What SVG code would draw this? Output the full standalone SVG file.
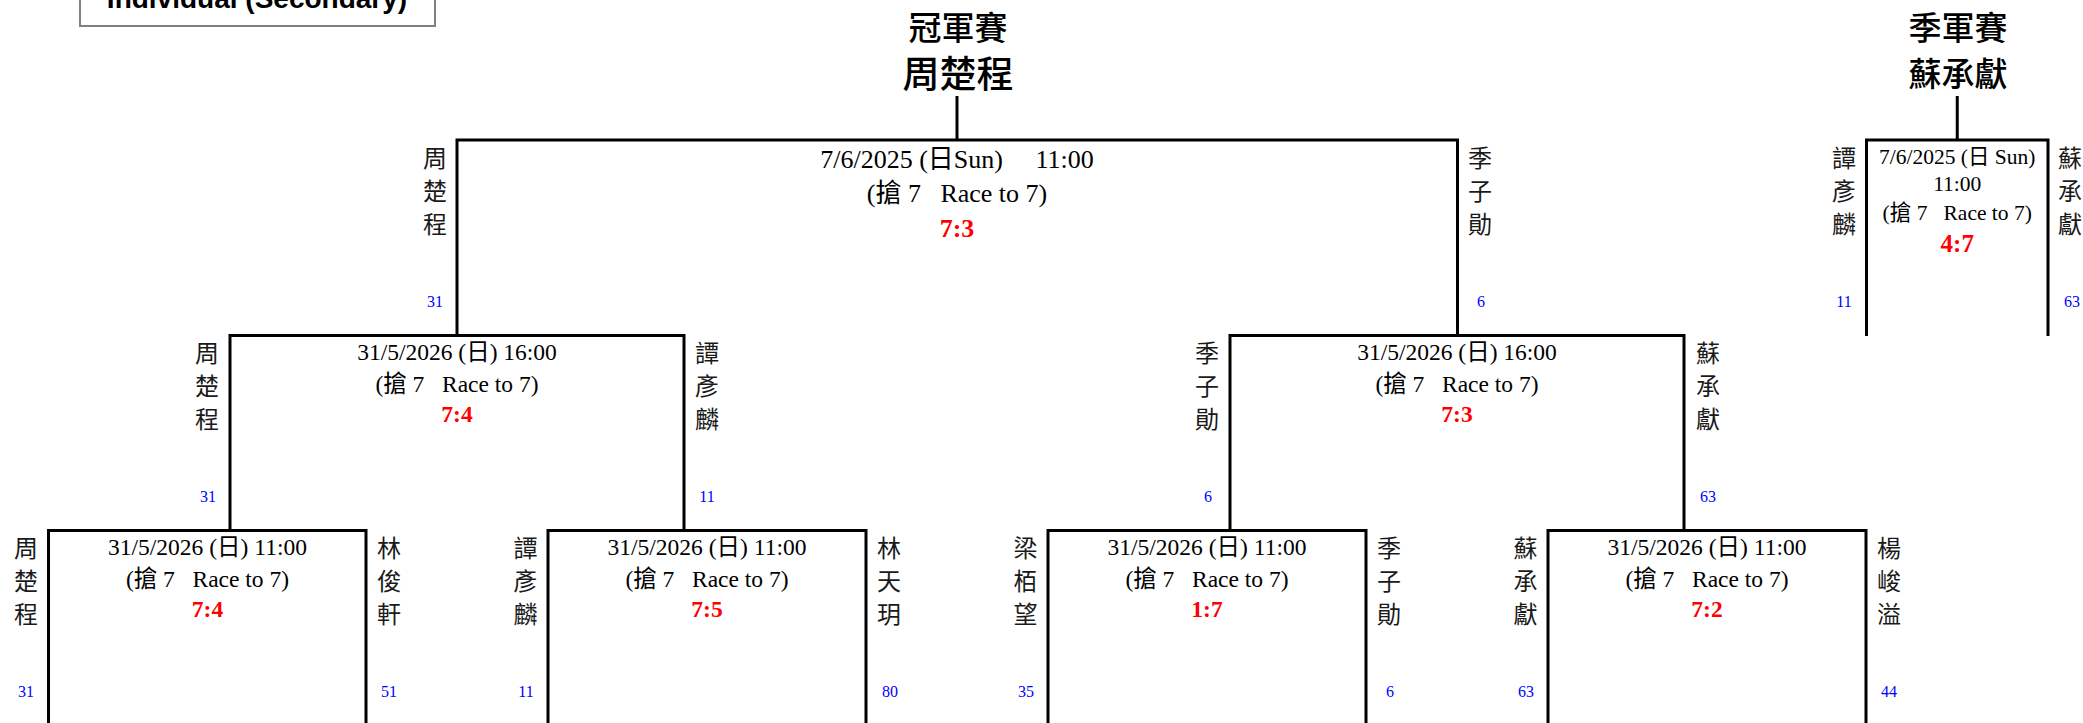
<svg xmlns="http://www.w3.org/2000/svg" width="2083" height="723" viewBox="0 0 2083 723">
<style>
.br{fill:none;stroke:#000;stroke-width:3;stroke-linejoin:miter}
.t{font-family:'Liberation Serif','Noto Sans CJK TC',serif;fill:#000;text-anchor:middle}
.f26{font-size:26px}
.f24{font-size:23.5px}
.f22{font-size:21.5px}
.sc{font-family:'Liberation Serif',serif;font-weight:bold;fill:#ff0000;text-anchor:middle}
.nm{font-family:'Noto Sans CJK TC','Noto Sans CJK SC',sans-serif;font-size:24px;fill:#1a1a1a;text-anchor:middle}
.num{font-family:'Liberation Serif',serif;font-size:16px;fill:#0000ff;text-anchor:middle}
.ttl{font-family:'Noto Sans CJK TC','Noto Sans CJK SC',sans-serif;fill:#000;text-anchor:middle;font-weight:500}
</style>
<rect width="2083" height="723" fill="#fff"/>

<g id="heading">
<rect x="80" y="-20" width="355" height="46" fill="#fff" stroke="#808080" stroke-width="2"/>
<text x="257" y="8" font-family="'Liberation Sans',Arial,sans-serif" font-weight="bold" font-size="28" text-anchor="middle" fill="#000">Individual (Secondary)</text>
</g>

<g id="connectors">
<line class="br" x1="957" y1="96" x2="957" y2="140"/>
<line class="br" x1="1957.25" y1="96" x2="1957.25" y2="140"/>
</g>

<g id="champion">
<text class="ttl" x="958" y="40" font-size="33">冠軍賽</text>
<text class="ttl" x="958" y="88" font-size="37">周楚程</text>
</g>

<g id="third-label">
<text class="ttl" x="1958" y="40" font-size="33">季軍賽</text>
<text class="ttl" x="1958" y="86" font-size="33">蘇承獻</text>
</g>

<g id="final">
<path class="br" d="M457,336 V140 H1457.5 V336"/>
<text class="t f26" x="957" y="168" xml:space="preserve">7/6/2025 (日Sun)     11:00</text>
<text class="t f26" x="957" y="202" xml:space="preserve">(搶 7   Race to 7)</text>
<text class="sc" x="957" y="237" font-size="26">7:3</text>
<text class="nm" y="167"><tspan x="435">周</tspan><tspan x="435" dy="33">楚</tspan><tspan x="435" dy="33">程</tspan></text>
<text class="num" x="435" y="307">31</text>
<text class="nm" y="167"><tspan x="1480">季</tspan><tspan x="1480" dy="33">子</tspan><tspan x="1480" dy="33">勛</tspan></text>
<text class="num" x="1481" y="307">6</text>
</g>

<g id="third-place">
<path class="br" d="M1866.5,336 V140 H2048 V336"/>
<text class="t f22" x="1957.25" y="164">7/6/2025 (日 Sun)</text>
<text class="t f22" x="1957.25" y="190.5">11:00</text>
<text class="t f22" x="1957.25" y="220" xml:space="preserve">(搶 7   Race to 7)</text>
<text class="sc" x="1957.25" y="251.5" font-size="25">4:7</text>
<text class="nm" y="167"><tspan x="1844">譚</tspan><tspan x="1844" dy="33">彥</tspan><tspan x="1844" dy="33">麟</tspan></text>
<text class="num" x="1844" y="307">11</text>
<text class="nm" y="167"><tspan x="2070">蘇</tspan><tspan x="2070" dy="33">承</tspan><tspan x="2070" dy="33">獻</tspan></text>
<text class="num" x="2072" y="307">63</text>
</g>

<g id="semi-left">
<path class="br" d="M230,531 V335.5 H684 V531"/>
<text class="t f24" x="457" y="360">31/5/2026 (日) 16:00</text>
<text class="t f24" x="457" y="392" xml:space="preserve">(搶 7   Race to 7)</text>
<text class="sc" x="457" y="422" font-size="23.5">7:4</text>
<text class="nm" y="362"><tspan x="207">周</tspan><tspan x="207" dy="33">楚</tspan><tspan x="207" dy="33">程</tspan></text>
<text class="num" x="208" y="502">31</text>
<text class="nm" y="362"><tspan x="707">譚</tspan><tspan x="707" dy="33">彥</tspan><tspan x="707" dy="33">麟</tspan></text>
<text class="num" x="707" y="502">11</text>
</g>

<g id="semi-right">
<path class="br" d="M1230,531 V335.5 H1684 V531"/>
<text class="t f24" x="1457" y="360">31/5/2026 (日) 16:00</text>
<text class="t f24" x="1457" y="392" xml:space="preserve">(搶 7   Race to 7)</text>
<text class="sc" x="1457" y="422" font-size="23.5">7:3</text>
<text class="nm" y="362"><tspan x="1207">季</tspan><tspan x="1207" dy="33">子</tspan><tspan x="1207" dy="33">勛</tspan></text>
<text class="num" x="1208" y="502">6</text>
<text class="nm" y="362"><tspan x="1708">蘇</tspan><tspan x="1708" dy="33">承</tspan><tspan x="1708" dy="33">獻</tspan></text>
<text class="num" x="1708" y="502">63</text>
</g>

<g id="qf1">
<path class="br" d="M48.5,725 V530.5 H366 V725"/>
<text class="t f24" x="207.5" y="555">31/5/2026 (日) 11:00</text>
<text class="t f24" x="207.5" y="587" xml:space="preserve">(搶 7   Race to 7)</text>
<text class="sc" x="207.5" y="617" font-size="23.5">7:4</text>
<text class="nm" y="557"><tspan x="26">周</tspan><tspan x="26" dy="33">楚</tspan><tspan x="26" dy="33">程</tspan></text>
<text class="num" x="26" y="697">31</text>
<text class="nm" y="557"><tspan x="389">林</tspan><tspan x="389" dy="33">俊</tspan><tspan x="389" dy="33">軒</tspan></text>
<text class="num" x="389" y="697">51</text>
</g>

<g id="qf2">
<path class="br" d="M548,725 V530.5 H866 V725"/>
<text class="t f24" x="707" y="555">31/5/2026 (日) 11:00</text>
<text class="t f24" x="707" y="587" xml:space="preserve">(搶 7   Race to 7)</text>
<text class="sc" x="707" y="617" font-size="23.5">7:5</text>
<text class="nm" y="557"><tspan x="525.5">譚</tspan><tspan x="525.5" dy="33">彥</tspan><tspan x="525.5" dy="33">麟</tspan></text>
<text class="num" x="526" y="697">11</text>
<text class="nm" y="557"><tspan x="889">林</tspan><tspan x="889" dy="33">天</tspan><tspan x="889" dy="33">玥</tspan></text>
<text class="num" x="890" y="697">80</text>
</g>

<g id="qf3">
<path class="br" d="M1048,725 V530.5 H1366 V725"/>
<text class="t f24" x="1207" y="555">31/5/2026 (日) 11:00</text>
<text class="t f24" x="1207" y="587" xml:space="preserve">(搶 7   Race to 7)</text>
<text class="sc" x="1207" y="617" font-size="23.5">1:7</text>
<text class="nm" y="557"><tspan x="1025.5">梁</tspan><tspan x="1025.5" dy="33">栢</tspan><tspan x="1025.5" dy="33">望</tspan></text>
<text class="num" x="1026" y="697">35</text>
<text class="nm" y="557"><tspan x="1389">季</tspan><tspan x="1389" dy="33">子</tspan><tspan x="1389" dy="33">勛</tspan></text>
<text class="num" x="1390" y="697">6</text>
</g>

<g id="qf4">
<path class="br" d="M1548,725 V530.5 H1866 V725"/>
<text class="t f24" x="1707" y="555">31/5/2026 (日) 11:00</text>
<text class="t f24" x="1707" y="587" xml:space="preserve">(搶 7   Race to 7)</text>
<text class="sc" x="1707" y="617" font-size="23.5">7:2</text>
<text class="nm" y="557"><tspan x="1525.5">蘇</tspan><tspan x="1525.5" dy="33">承</tspan><tspan x="1525.5" dy="33">獻</tspan></text>
<text class="num" x="1526" y="697">63</text>
<text class="nm" y="557"><tspan x="1889">楊</tspan><tspan x="1889" dy="33">峻</tspan><tspan x="1889" dy="33">溢</tspan></text>
<text class="num" x="1889" y="697">44</text>
</g>
</svg>
